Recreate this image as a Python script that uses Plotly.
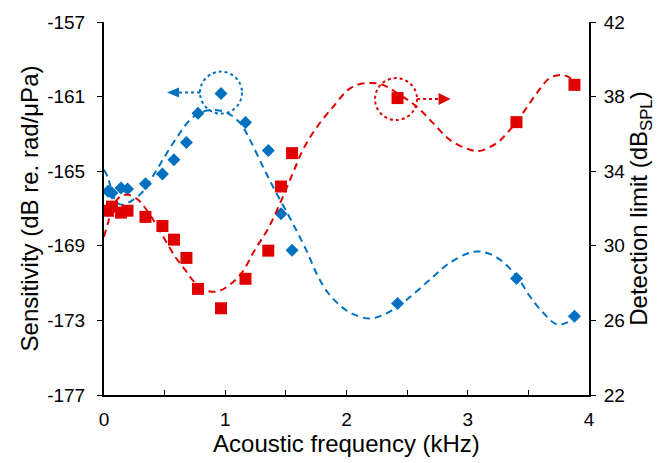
import plotly.graph_objects as go

# ---- data ----
freq_khz = [0.033, 0.066, 0.140, 0.194, 0.342, 0.482, 0.577, 0.680, 0.775,
            0.965, 1.167, 1.355, 1.460, 1.551, 2.421, 3.402, 3.880]
sensitivity_db = [-166.08, -166.17, -165.90, -165.96, -165.67, -165.15, -164.39,
                  -163.46, -161.89, -160.84, -162.39, -163.89, -167.28, -169.24,
                  -172.10, -170.76, -172.78]
detection_db = [31.88, 32.10, 31.78, 31.88, 31.55, 31.06, 30.33, 29.35, 27.69,
                26.65, 28.23, 29.74, 33.18, 34.97, 37.92, 36.63, 38.63]

# dashed fit curves
fit_sens_x = [0.0, 0.033, 0.066, 0.107, 0.157, 0.214, 0.313, 0.421, 0.520, 0.627,
              0.709, 0.792, 0.899, 1.014, 1.122, 1.204, 1.311, 1.394, 1.509, 1.592,
              1.674, 1.757, 1.839, 1.930, 2.029, 2.194, 2.359, 2.499, 2.689, 2.854,
              3.019, 3.101, 3.241, 3.406, 3.513, 3.621, 3.736, 3.819, 3.926]
fit_sens_y = [-164.92, -165.35, -166.10, -166.69, -166.80, -166.64, -166.15, -165.08,
              -164.01, -162.94, -162.25, -161.87, -161.71, -161.87, -162.41, -163.32,
              -164.76, -165.83, -167.22, -168.24, -169.31, -170.54, -171.45, -172.10,
              -172.58, -172.90, -172.52, -171.88, -170.81, -169.90, -169.37, -169.31,
              -169.63, -170.65, -171.72, -172.58, -173.22, -173.11, -172.63]
fit_det_x = [0.0, 0.033, 0.074, 0.132, 0.198, 0.280, 0.338, 0.421, 0.503, 0.586,
             0.668, 0.750, 0.874, 0.957, 1.039, 1.138, 1.245, 1.353, 1.468, 1.559,
             1.641, 1.757, 1.889, 2.012, 2.087, 2.194, 2.301, 2.416, 2.581, 2.713,
             2.854, 3.019, 3.101, 3.241, 3.348, 3.456, 3.571, 3.678, 3.786, 3.868, 3.926]
fit_det_y = [30.49, 31.24, 32.10, 32.63, 32.74, 32.47, 32.04, 31.24, 30.33, 29.42,
             28.72, 28.03, 27.55, 27.60, 27.92, 28.56, 29.79, 30.92, 32.52, 33.92,
             35.15, 36.38, 37.45, 38.36, 38.63, 38.73, 38.63, 38.20, 37.45, 36.59,
             35.67, 35.15, 35.09, 35.52, 36.22, 37.13, 38.20, 39.00, 39.16, 38.90, 38.52]

sens_ticks = [-177, -173, -169, -165, -161, -157]
sens_tick_text = ["-177", "-173", "-169", "-165", "-161", "-157"]
det_ticks = [22, 26, 30, 34, 38, 42]
freq_ticks = [0, 1, 2, 3, 4]

BLUE = "#0070C0"
RED = "#E00000"
FONT = "Liberation Sans, Arial, sans-serif"

fig = go.Figure()

fig.add_trace(go.Scatter(x=fit_sens_x, y=fit_sens_y, mode="lines",
                         line=dict(color=BLUE, width=2, dash="7px,5px", shape="spline"),
                         showlegend=False, hoverinfo="skip"))
fig.add_trace(go.Scatter(x=fit_det_x, y=fit_det_y, mode="lines", yaxis="y2",
                         line=dict(color=RED, width=2, dash="7px,5px", shape="spline"),
                         showlegend=False, hoverinfo="skip"))
fig.add_trace(go.Scatter(x=freq_khz, y=sensitivity_db, mode="markers",
                         marker=dict(symbol="diamond", size=10, color=BLUE),
                         showlegend=False))
fig.add_trace(go.Scatter(x=freq_khz, y=detection_db, mode="markers", yaxis="y2",
                         marker=dict(symbol="square", size=12, color=RED),
                         showlegend=False))

# circled points with arrows pointing to their axes
bi = freq_khz.index(0.965)
ri = freq_khz.index(2.421)
R = 21
shapes = [
    dict(type="circle", xref="x", yref="y", xsizemode="pixel", ysizemode="pixel",
         xanchor=freq_khz[bi], yanchor=sensitivity_db[bi],
         x0=-R, x1=R, y0=-R + 1, y1=R + 1,
         line=dict(color=BLUE, width=2, dash="dot")),
    dict(type="line", xref="x", yref="y", xsizemode="pixel", ysizemode="pixel",
         xanchor=freq_khz[bi], yanchor=sensitivity_db[bi],
         x0=-R, x1=-43, y0=1, y1=1,
         line=dict(color=BLUE, width=2, dash="dot")),
    dict(type="path", xref="x", yref="y", xsizemode="pixel", ysizemode="pixel",
         xanchor=freq_khz[bi], yanchor=sensitivity_db[bi],
         path="M -42 6 L -54 1 L -42 -4 Z", fillcolor=BLUE, line=dict(width=0)),
    dict(type="circle", xref="x", yref="y2", xsizemode="pixel", ysizemode="pixel",
         xanchor=freq_khz[ri], yanchor=detection_db[ri],
         x0=-R - 1.5, x1=R - 1.5, y0=-R - 1, y1=R - 1,
         line=dict(color=RED, width=2, dash="dot")),
    dict(type="line", xref="x", yref="y2", xsizemode="pixel", ysizemode="pixel",
         xanchor=freq_khz[ri], yanchor=detection_db[ri],
         x0=R - 1.5, x1=42, y0=-1, y1=-1,
         line=dict(color=RED, width=2, dash="dot")),
    dict(type="path", xref="x", yref="y2", xsizemode="pixel", ysizemode="pixel",
         xanchor=freq_khz[ri], yanchor=detection_db[ri],
         path="M 41 5 L 53 -1 L 41 -7 Z", fillcolor=RED, line=dict(width=0)),
]

axis_font = dict(family=FONT, size=19, color="black")
title_font = dict(family=FONT, size=24, color="black")

fig.update_layout(
    width=663, height=463,
    margin=dict(l=104, r=74, t=22, b=68),
    paper_bgcolor="white", plot_bgcolor="white",
    font=dict(family=FONT, color="black"),
    shapes=shapes,
    xaxis=dict(range=[0, 4], tickvals=freq_ticks, ticks="inside", ticklen=5,
               tickcolor="black", showgrid=False, zeroline=False,
               showline=True, linecolor="black", linewidth=2,
               minor=dict(dtick=0.5, ticks="inside", ticklen=5, tickcolor="black"),
               tickfont=axis_font, ticklabelstandoff=6,
               title=dict(text="Acoustic frequency (kHz)", font=title_font, standoff=4)),
    yaxis=dict(range=[-177, -157], tickvals=sens_ticks, ticktext=sens_tick_text,
               ticks="outside", ticklen=5,
               tickcolor="black", showgrid=False, zeroline=False,
               showline=True, linecolor="black", linewidth=2,
               tickfont=axis_font, ticklabelstandoff=8,
               title=dict(text="Sensitivity (dB re. rad/μPa)", font=title_font, standoff=2)),
    yaxis2=dict(range=[22, 42], tickvals=det_ticks, ticks="outside", ticklen=5,
                tickcolor="black", showgrid=False, zeroline=False,
                showline=True, linecolor="black", linewidth=2,
                overlaying="y", side="right", tickfont=axis_font, ticklabelstandoff=4,
                title=dict(text="Detection limit (dB<sub>SPL</sub>)", font=title_font, standoff=6)),
)

fig.write_html("out.html")
